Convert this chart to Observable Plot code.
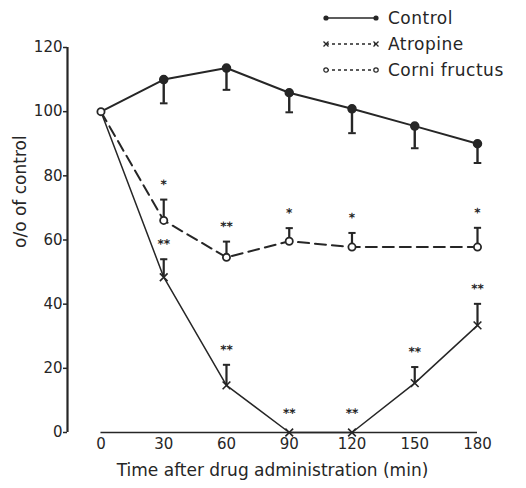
<!DOCTYPE html>
<html>
<head>
<meta charset="utf-8">
<script src="https://cdn.jsdelivr.net/npm/d3@7"></script>
<script src="https://cdn.jsdelivr.net/npm/@observablehq/plot@0.6"></script>
<style>
  html, body { margin: 0; padding: 0; background: #fff; }
  #wrap { position: relative; width: 526px; height: 488px; font-family: "DejaVu Sans", sans-serif; color: #262626; }
  #legend { position: absolute; left: 322px; top: 5px; font-size: 17px; line-height: 26px; letter-spacing: 0.5px; }
  #legend .row { display: flex; align-items: center; height: 26px; }
  #legend svg { margin-right: 8px; }
</style>
</head>
<body>
<div id="wrap">
  <div id="chart"></div>
  <div id="legend"></div>
</div>
<script>
// ---- data ----
const times = [0, 30, 60, 90, 120, 150, 180];
const control = [100, 110, 113.6, 105.9, 100.9, 95.5, 90];
const controlSE = [null, 7.4, 6.8, 6.1, 7.6, 6.9, 6.0];
const atropine = [100, 48.4, 14.7, 0, 0, 15.4, 33.4];
const atropineSE = [null, 5.6, 6.4, null, null, 5.0, 6.7];
const atropineSig = [null, "**", "**", "**", "**", "**", "**"];
const corniTimes = [0, 30, 60, 90, 120, 180];
const corni = [100, 66.1, 54.6, 59.6, 57.8, 57.8];
const corniSE = [null, 6.5, 4.9, 4.1, 4.4, 6.0];
const corniSig = [null, "*", "**", "*", "*", "*"];
const xTicks = [0, 30, 60, 90, 120, 150, 180];
const yTicks = [0, 20, 40, 60, 80, 100, 120];
const seriesNames = ["Control", "Atropine", "Corni fructus"];
const xDomain = [-16, 180];
const yDomain = [0, 120];

const ink = "#262626";

// ---- tables built from the arrays ----
const controlRows = times.map((t, i) => ({t, v: control[i], se: controlSE[i]}));
const atropineRows = times.map((t, i) => ({t, v: atropine[i], se: atropineSE[i], sig: atropineSig[i]}));
const corniRows = corniTimes.map((t, i) => ({t, v: corni[i], se: corniSE[i], sig: corniSig[i]}));

// horizontal cap symbol for error bars
const cap = {
  draw(ctx, size) {
    const r = Math.sqrt(size / Math.PI);
    ctx.moveTo(-r, 0);
    ctx.lineTo(r, 0);
  }
};

const withSE = rows => rows.filter(d => d.se != null);
const sigWithSE = rows => rows.filter(d => d.sig && d.se != null);
const sigNoSE = rows => rows.filter(d => d.sig && d.se == null);
const starStyle = {x: "t", text: "sig", fontSize: 12, fontWeight: "bold", fill: ink, rotate: 0.2};

const chart = Plot.plot({
  width: 526,
  height: 488,
  marginLeft: 67,
  marginRight: 49,
  marginTop: 47,
  marginBottom: 56,
  style: {fontFamily: "DejaVu Sans, sans-serif", color: ink, background: "transparent"},
  x: {domain: xDomain},
  y: {domain: yDomain},
  marks: [
    // axes
    Plot.ruleX([xDomain[0]], {y1: yDomain[0], y2: yDomain[1], stroke: ink, strokeWidth: 2.2}),
    Plot.ruleY([0], {x1: xTicks[0], x2: xTicks[xTicks.length - 1], stroke: ink, strokeWidth: 1.4}),
    Plot.axisY({ticks: yTicks, x: xDomain[0], tickSize: 4, tickPadding: 1, fontSize: 15, label: null, stroke: ink, strokeWidth: 1.5}),
    Plot.axisX({ticks: xTicks, tickSize: 0, tickPadding: 6, fontSize: 15, label: null}),
    Plot.text(["Time after drug administration (min)"], {frameAnchor: "bottom", dy: 43, fontSize: 17, fill: ink, letterSpacing: "0.7px"}),
    Plot.text(["o/o of control"], {frameAnchor: "left", rotate: -90, dx: -47, dy: 8, fontSize: 17, fill: ink, letterSpacing: "0.4px"}),

    // lines
    Plot.line(controlRows, {x: "t", y: "v", stroke: ink, strokeWidth: 2}),
    Plot.line(atropineRows, {x: "t", y: "v", stroke: ink, strokeWidth: 1.5}),
    Plot.line(corniRows, {x: "t", y: "v", stroke: ink, strokeWidth: 2, strokeDasharray: "11,6"}),

    // error bars: control downward, others upward
    Plot.ruleX(withSE(controlRows), {x: "t", y1: "v", y2: d => d.v - d.se, stroke: ink, strokeWidth: 2.4}),
    Plot.dot(withSE(controlRows), {x: "t", y: d => d.v - d.se, symbol: cap, r: 3.8, stroke: ink, strokeWidth: 2}),
    Plot.ruleX(withSE(atropineRows), {x: "t", y1: "v", y2: d => d.v + d.se, stroke: ink, strokeWidth: 2.2}),
    Plot.dot(withSE(atropineRows), {x: "t", y: d => d.v + d.se, symbol: cap, r: 3.6, stroke: ink, strokeWidth: 2}),
    Plot.ruleX(withSE(corniRows), {x: "t", y1: "v", y2: d => d.v + d.se, stroke: ink, strokeWidth: 2.2}),
    Plot.dot(withSE(corniRows), {x: "t", y: d => d.v + d.se, symbol: cap, r: 3.6, stroke: ink, strokeWidth: 2}),

    // significance marks (above the error bar, or above the point when there is none)
    Plot.text(sigWithSE(atropineRows), {...starStyle, y: d => d.v + d.se, dy: -15}),
    Plot.text(sigNoSE(atropineRows), {...starStyle, y: "v", dy: -19}),
    Plot.text(sigWithSE(corniRows), {...starStyle, y: d => d.v + d.se, dy: -15}),

    // markers
    Plot.dot(controlRows.slice(1), {x: "t", y: "v", r: 4, fill: ink, stroke: ink}),
    Plot.dot(atropineRows.slice(1), {x: "t", y: "v", symbol: "times", r: 3.6, stroke: ink, strokeWidth: 1.6}),
    Plot.dot(corniRows, {x: "t", y: "v", r: 3.6, fill: "white", stroke: ink, strokeWidth: 1.8})
  ]
});
document.getElementById("chart").appendChild(chart);

// ---- legend ----
const legend = d3.select("#legend");
const styles = [
  {dash: null, marker: "dot"},
  {dash: "3,3", marker: "x"},
  {dash: "3,3", marker: "o"}
];
seriesNames.forEach((name, i) => {
  const row = legend.append("div").attr("class", "row");
  const s = row.append("svg").attr("width", 58).attr("height", 14);
  const st = styles[i];
  s.append("line").attr("x1", 4).attr("x2", 54).attr("y1", 7).attr("y2", 7)
    .attr("stroke", ink).attr("stroke-width", 1.4).attr("stroke-dasharray", st.dash);
  [4, 54].forEach(cx => {
    if (st.marker === "dot") s.append("circle").attr("cx", cx).attr("cy", 7).attr("r", 2.6).attr("fill", ink);
    else if (st.marker === "o") s.append("circle").attr("cx", cx).attr("cy", 7).attr("r", 2.2).attr("fill", "white").attr("stroke", ink).attr("stroke-width", 1.2);
    else s.append("path").attr("d", `M${cx-2.5},4.5L${cx+2.5},9.5M${cx-2.5},9.5L${cx+2.5},4.5`).attr("stroke", ink).attr("stroke-width", 1.3);
  });
  row.append("span").text(name);
});
</script>
</body>
</html>
